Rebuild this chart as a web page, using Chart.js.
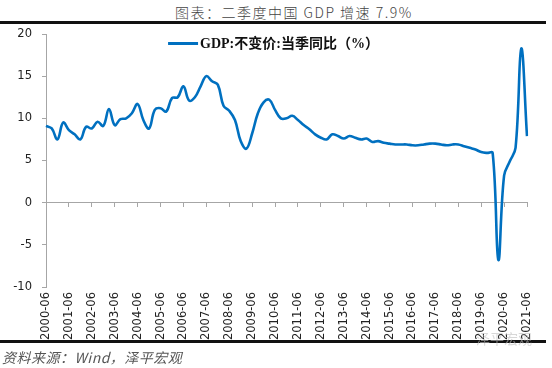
<!DOCTYPE html>
<html lang="zh">

<head>
  <meta charset="UTF-8">
  <title>二季度中国 GDP 增速</title>
  <script src="https://cdn.jsdelivr.net/npm/chart.js"></script>
  <style>
    body { margin: 0; width: 552px; height: 368px; background: #fff; position: relative; overflow: hidden; }
    .title { position: absolute; left: 175px; top: 2px; line-height: 20px; font: 300 14px "Noto Sans CJK SC", sans-serif; letter-spacing: 1.5px; color: #444; white-space: nowrap; }
    .rule { position: absolute; left: 0; width: 546px; height: 3px; background: #111; }
    .source { position: absolute; left: 2px; top: 347px; line-height: 16px; font: italic 14px "Noto Sans CJK SC", sans-serif; color: #555; letter-spacing: 0.5px; white-space: nowrap; }
    .mark { position: absolute; left: 476px; top: 328px; font: 14px "Noto Sans CJK SC", sans-serif; color: rgba(190, 190, 190, 0.6); white-space: nowrap; }
    #gdpChart { position: absolute; left: 0; top: 14px; }
  </style>
</head>

<body>
  <div class="title">图表：二季度中国 GDP 增速 7.9%</div>
  <canvas id="gdpChart" width="552" height="330" style="width: 552px; height: 330px;"></canvas>
  <div class="rule" style="top: 21px;"></div>
  <div class="rule" style="top: 340px;"></div>
  <div class="source">资料来源：Wind，泽平宏观</div>
  <div class="mark">泽平宏观</div>

  <script>
    // 季度标签：2000-06 ... 2021-06
    const quarters = [];
    for (let y = 2000; y <= 2021; y++) {
      ['03', '06', '09', '12'].forEach(m => quarters.push(y + '-' + m));
    }
    const labels = quarters.slice(1, quarters.length - 2);

    const seriesName = 'GDP:不变价:当季同比（%）';
    const gdpYoy = [
      9.1, 8.8, 7.5, 9.5, 8.6, 8.1, 7.5, 9.0, 8.8, 9.6,
      9.1, 11.1, 9.2, 9.9, 10.0, 10.6, 11.7, 9.8, 8.8, 11.0,
      11.2, 10.8, 12.4, 12.5, 13.8, 12.1, 12.5, 13.8, 15.0, 14.4,
      14.0, 11.5, 10.9, 9.8, 7.3, 6.4, 8.2, 10.6, 11.9, 12.2,
      11.0, 10.0, 10.0, 10.3, 9.8, 9.2, 8.7, 8.1, 7.7, 7.5,
      8.1, 7.9, 7.6, 7.9, 7.7, 7.5, 7.6, 7.2, 7.3, 7.1,
      7.0, 6.9, 6.9, 6.9, 6.8, 6.8, 6.9, 7.0, 7.0, 6.9,
      6.8, 6.9, 6.9, 6.7, 6.5, 6.3, 6.0, 5.9, 5.9, -6.8,
      3.2, 4.9, 6.5, 18.3, 7.9
    ];
    const yMin = -10, yMax = 20, yStep = 5;

    const lineBlue = '#0070c0';
    const axisGrey = '#a6a6a6';
    const tickFont = { family: '"DejaVu Sans", sans-serif', size: 11.5 };

    // 图例画在绘图区内部（顶端略偏左）
    const innerLegend = {
      id: 'innerLegend',
      afterDraw(chart) {
        const { ctx, chartArea } = chart;
        const ds = chart.data.datasets[0];
        ctx.save();
        ctx.font = 'bold 14px "Liberation Serif", "Noto Sans CJK SC", serif';
        const textW = ctx.measureText(ds.label).width;
        const lineW = 30, gap = 2;
        const x0 = (chartArea.left + chartArea.right) / 2 - 13 - (lineW + gap + textW) / 2;
        const y = chartArea.top + 9.5;
        ctx.strokeStyle = ds.borderColor;
        ctx.lineWidth = 3;
        ctx.beginPath();
        ctx.moveTo(x0, y);
        ctx.lineTo(x0 + lineW, y);
        ctx.stroke();
        ctx.fillStyle = '#111';
        ctx.textBaseline = 'middle';
        ctx.fillText(ds.label, x0 + lineW + gap, y + 1);
        ctx.restore();
      }
    };

    new Chart(document.getElementById('gdpChart'), {
      type: 'line',
      data: {
        labels: labels,
        datasets: [{
          label: seriesName,
          data: gdpYoy,
          borderColor: lineBlue,
          backgroundColor: lineBlue,
          borderWidth: 2.6,
          pointRadius: 0,
          tension: 0.4,
          xAxisID: 'x',
          yAxisID: 'y'
        }]
      },
      options: {
        responsive: false,
        animation: false,
        layout: { padding: { top: 20, right: 25, left: 0, bottom: 0 } },
        plugins: {
          tooltip: { enabled: false },
          legend: { display: false }
        },
        scales: {
          x: {
            type: 'category',
            position: 'bottom',
            border: { display: false },
            grid: { display: false, drawTicks: false, tickLength: 0 },
            ticks: {
              autoSkip: false,
              maxRotation: 90,
              minRotation: 90,
              padding: 5,
              color: '#222',
              font: tickFont,
              callback: (v, i) => (i % 4 === 0 ? labels[i] : '')
            },
            afterFit: s => { s.height = 57; }
          },
          x2: {
            type: 'category',
            axis: 'x',
            position: { y: 0 },
            border: { color: axisGrey, width: 1 },
            grid: {
              drawOnChartArea: false,
              drawTicks: true,
              tickLength: 4,
              color: c => (c.index % 4 === 0 ? axisGrey : 'rgba(0,0,0,0)')
            },
            ticks: { display: false }
          },
          y: {
            min: yMin,
            max: yMax,
            border: { color: axisGrey, width: 1 },
            grid: { drawOnChartArea: false, drawTicks: true, tickLength: 4, color: axisGrey },
            ticks: { stepSize: yStep, padding: 10, color: '#222', font: tickFont },
            afterFit: s => { s.width = 46; }
          }
        }
      },
      plugins: [innerLegend]
    });
  </script>
</body>

</html>
